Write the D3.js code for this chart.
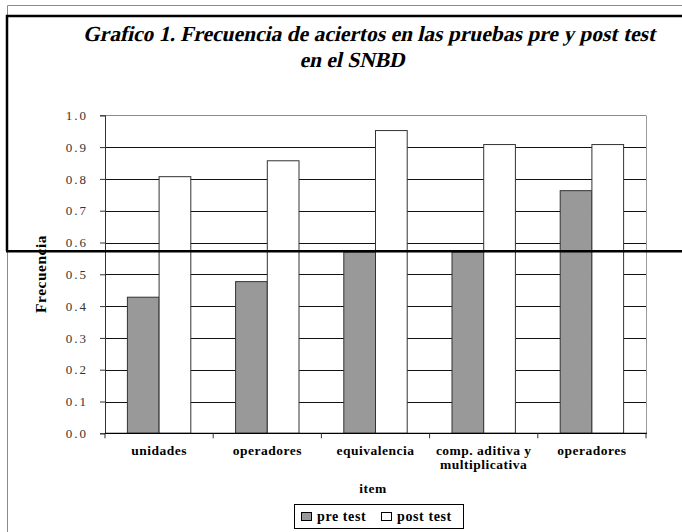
<!DOCTYPE html>
<html>
<head>
<meta charset="utf-8">
<script src="https://cdn.jsdelivr.net/npm/d3@7"></script>
<style>
  html, body { margin: 0; padding: 0; background: #fff; }
  svg { display: block; }
</style>
</head>
<body>
<svg id="chart" width="682" height="532"></svg>
<script>
const categories = ["unidades", "operadores", "equivalencia", "comp. aditiva y|multiplicativa", "operadores"];
const preTest  = [0.428, 0.477, 0.570, 0.570, 0.763];
const postTest = [0.807, 0.857, 0.952, 0.908, 0.908];
const seriesNames = ["pre test", "post test"];
const yTicks = [0, 0.1, 0.2, 0.3, 0.4, 0.5, 0.6, 0.7, 0.8, 0.9, 1.0];
const titleLines = ["Grafico 1. Frecuencia de aciertos en las pruebas pre y post test", "en el SNBD"];
const yTitle = "Frecuencia";
const xTitle = "item";

const svg = d3.select("#chart");
const serif = "'Liberation Serif', 'Times New Roman', serif";
const plot = { left: 105, right: 646, top: 115.3, bottom: 433.3 };

const x = d3.scaleBand().domain(d3.range(categories.length)).range([plot.left, plot.right]);
const y = d3.scaleLinear().domain([0, 1]).range([plot.bottom, plot.top]);
const barW = x.bandwidth() * 0.293;
const colors = ["#999999", "#ffffff"];

// outer chart frame (thin gray)
svg.append("path").attr("d", "M7.5,532 V5.5 H682").attr("fill", "none").attr("stroke", "#8a8a8a").attr("stroke-width", 1);

// title (serif bold, slanted)
const skew = 0.22;
const title = svg.append("g").attr("transform", `matrix(1,0,${-skew},1,0,0)`)
  .append("text").attr("font-family", serif).attr("font-weight", "bold")
  .attr("font-size", 21.5).attr("text-anchor", "middle").attr("fill", "#000");
title.append("tspan").attr("x", 369 + skew * 41).attr("y", 41).text(titleLines[0]);
title.append("tspan").attr("x", 352 + skew * 67).attr("y", 67).text(titleLines[1]);

// gridlines
svg.append("g").selectAll("line").data(yTicks.slice(1)).join("line")
  .attr("x1", plot.left).attr("x2", plot.right)
  .attr("y1", d => Math.round(y(d)) + 0.5).attr("y2", d => Math.round(y(d)) + 0.5)
  .attr("stroke", d => d === 1 ? "#8a8a8a" : "#111").attr("stroke-width", 1);

// plot right border
svg.append("line").attr("x1", plot.right + 0.5).attr("x2", plot.right + 0.5)
  .attr("y1", Math.round(y(1)) + 0.5).attr("y2", plot.bottom).attr("stroke", "#9a9a9a");

// bars
const series = [preTest, postTest];
series.forEach((vals, si) => {
  svg.append("g").selectAll("rect").data(vals).join("rect")
    .attr("x", (d, i) => x(i) + x.bandwidth() / 2 - barW + si * barW)
    .attr("y", d => y(d))
    .attr("width", barW)
    .attr("height", d => plot.bottom - y(d))
    .attr("fill", colors[si])
    .attr("stroke", "#333").attr("stroke-width", 1);
});

// y axis
const yAxis = d3.axisLeft(y).tickValues(yTicks).tickSize(5).tickPadding(14).tickFormat(d3.format(".1f"));
const gy = svg.append("g").attr("transform", `translate(${plot.left},0)`).call(yAxis);
gy.select(".domain").attr("stroke", "#333");
gy.selectAll(".tick line").attr("stroke", "#333");
gy.selectAll(".tick text").attr("font-family", serif).attr("font-size", 13).attr("letter-spacing", "2px")
  .attr("fill", "#333").attr("dx", 2);

// x axis
const gx = svg.append("g").attr("transform", `translate(0,${plot.bottom})`);
gx.append("line").attr("x1", plot.left).attr("x2", plot.right + 1).attr("y1", 0).attr("y2", 0).attr("stroke", "#000").attr("stroke-width", 1.3);
const bounds = d3.range(categories.length).map(i => x(i)).concat([plot.right]);
gx.selectAll("line.tk").data(bounds).join("line").attr("class", "tk")
  .attr("x1", d => d).attr("x2", d => d).attr("y1", 0).attr("y2", 5).attr("stroke", "#333");
gx.selectAll("text.cat").data(categories).join("text").attr("class", "cat")
  .attr("font-family", serif).attr("font-weight", "bold").attr("font-size", 13.5).attr("letter-spacing", "0.5px")
  .attr("text-anchor", "middle")
  .each(function(d, i) {
    const parts = d.split("|");
    parts.forEach((p, k) => {
      d3.select(this).append("tspan").attr("x", x(i) + x.bandwidth() / 2).attr("y", 22 + k * 14).text(p);
    });
  });

// axis titles
svg.append("text").attr("transform", "translate(46,274) rotate(-90)")
  .attr("text-anchor", "middle").attr("font-family", serif).attr("font-weight", "bold").attr("font-size", 15.5)
  .attr("letter-spacing", "0.5px").text(yTitle);
svg.append("text").attr("x", 373).attr("y", 493).attr("text-anchor", "middle")
  .attr("font-family", serif).attr("font-weight", "bold").attr("font-size", 13.5).attr("letter-spacing", "0.5px").text(xTitle);

// legend
const lg = svg.append("g");
lg.append("rect").attr("x", 294.5).attr("y", 504.5).attr("width", 169).attr("height", 24)
  .attr("fill", "#fff").attr("stroke", "#000");
const legX = [301, 381];
seriesNames.forEach((n, i) => {
  lg.append("rect").attr("x", legX[i] + 0.5).attr("y", 512.5).attr("width", 10).attr("height", 8)
    .attr("fill", colors[i]).attr("stroke", "#000");
  lg.append("text").attr("x", legX[i] + 16).attr("y", 521).attr("font-family", serif).attr("font-weight", "bold")
    .attr("font-size", 14).attr("letter-spacing", "0.6px").text(n);
});

// overlaid frame (thick black)
svg.append("path").attr("d", "M7,251 V16 H682").attr("fill", "none").attr("stroke", "#000").attr("stroke-width", 2.5);
svg.append("rect").attr("x", 6).attr("y", 250).attr("width", 676).attr("height", 2.5).attr("fill", "#000");
</script>
</body>
</html>
